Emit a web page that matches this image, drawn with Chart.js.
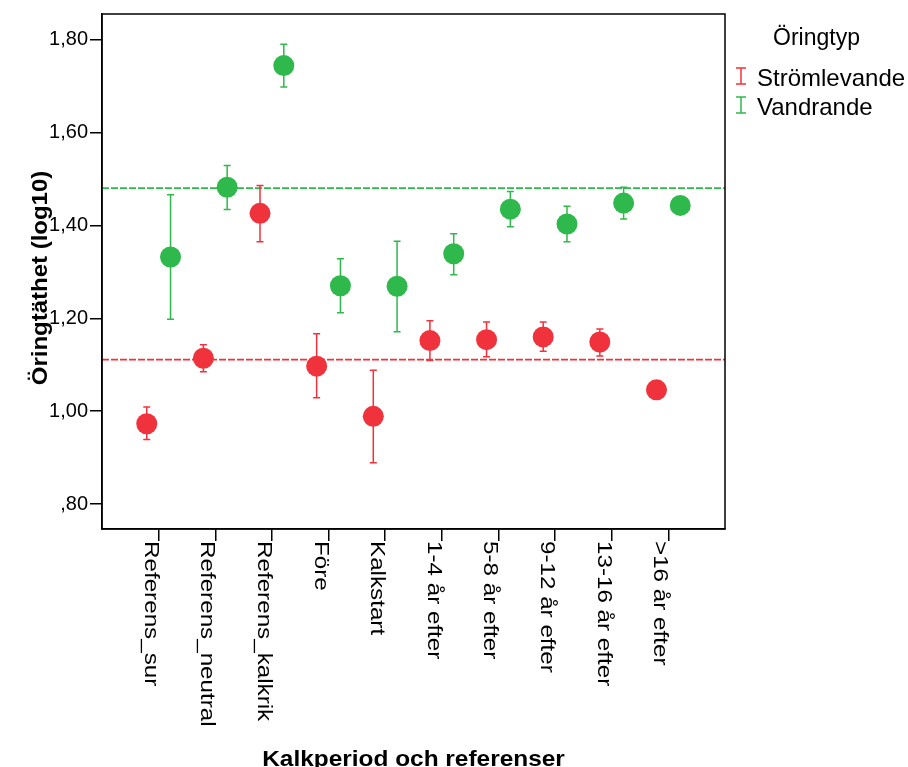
<!DOCTYPE html>
<html>
<head>
<meta charset="utf-8">
<script src="https://cdn.jsdelivr.net/npm/chart.js@4/dist/chart.umd.min.js"></script>
<style>
  html, body { margin: 0; padding: 0; background: #fff; }
  #wrap { width: 908px; height: 767px; }
</style>
</head>
<body>
<div id="wrap"><canvas id="c" width="908" height="767"></canvas></div>
<script>
// Kalkperioder och referenser
const categories = ['Referens_sur', 'Referens_neutral', 'Referens_kalkrik', 'Före', 'Kalkstart',
  '1-4 år efter', '5-8 år efter', '9-12 år efter', '13-16 år efter', '>16 år efter'];

// Strömlevande öring: medelvärde och felstaplar (log10)
const stromMean = [0.973, 1.114, 1.426, 1.097, 0.989, 1.152, 1.154, 1.160, 1.149, 1.046];
const stromLow  = [0.939, 1.085, 1.365, 1.029, 0.889, 1.109, 1.117, 1.129, 1.119, null];
const stromHigh = [1.009, 1.143, 1.486, 1.167, 1.088, 1.195, 1.192, 1.192, 1.177, null];

// Vandrande öring
const vandMean = [1.332, 1.482, 1.744, 1.270, 1.269, 1.339, 1.435, 1.403, 1.448, 1.443];
const vandLow  = [1.198, 1.434, 1.698, 1.212, 1.171, 1.294, 1.397, 1.365, 1.414, null];
const vandHigh = [1.466, 1.529, 1.790, 1.328, 1.366, 1.382, 1.473, 1.441, 1.482, null];

// Referenslinjer
const stromRef = 1.111;
const vandRef = 1.48;

const yTicks = [0.8, 1.0, 1.2, 1.4, 1.6, 1.8];
const yTickLabels = [',80', '1,00', '1,20', '1,40', '1,60', '1,80'];

const legendTitle = 'Öringtyp';
const seriesNames = ['Strömlevande', 'Vandrande'];
const xTitle = 'Kalkperiod och referenser';
const yTitle = 'Öringtäthet (log10)';

const RED = '#f0323c';
const GREEN = '#2fb84c';
const FONT = '"Liberation Sans", Arial, Helvetica, sans-serif';
const SHIFT = 0.21;

const series = [
  { name: seriesNames[0], mean: stromMean, low: stromLow, high: stromHigh, color: RED, shift: -SHIFT, ref: stromRef },
  { name: seriesNames[1], mean: vandMean, low: vandLow, high: vandHigh, color: GREEN, shift: SHIFT, ref: vandRef }
];

// draws text with a stretch along its reading direction
function stretchedText(ctx, text, x, y, rot, sx, font, align, baseline) {
  ctx.save();
  ctx.translate(x, y);
  ctx.rotate(rot);
  ctx.scale(sx, 1);
  ctx.font = font;
  ctx.textAlign = align;
  ctx.textBaseline = baseline;
  ctx.fillStyle = '#000';
  ctx.fillText(text, 0, 0);
  ctx.restore();
}

const decorations = {
  id: 'decorations',
  beforeDatasetsDraw(chart) {
    const { ctx, chartArea: a, scales: { x, y } } = chart;
    ctx.save();
    ctx.beginPath();
    ctx.rect(a.left, a.top, a.right - a.left, a.bottom - a.top);
    ctx.clip();
    // dashed reference lines
    ctx.lineWidth = 1.8;
    ctx.setLineDash([7, 2]);
    series.forEach(s => {
      const py = y.getPixelForValue(s.ref);
      ctx.strokeStyle = s.color;
      ctx.beginPath();
      ctx.moveTo(a.left, py);
      ctx.lineTo(a.right, py);
      ctx.stroke();
    });
    ctx.setLineDash([]);
    // error bars
    series.forEach(s => {
      ctx.strokeStyle = s.color;
      ctx.lineWidth = 1.5;
      s.low.forEach((lo, i) => {
        const hi = s.high[i];
        if (lo == null || hi == null) return;
        const px = x.getPixelForValue(i + 1 + s.shift);
        const pl = y.getPixelForValue(lo);
        const ph = y.getPixelForValue(hi);
        ctx.beginPath();
        ctx.moveTo(px, pl); ctx.lineTo(px, ph);
        ctx.moveTo(px - 3.5, pl); ctx.lineTo(px + 3.5, pl);
        ctx.moveTo(px - 3.5, ph); ctx.lineTo(px + 3.5, ph);
        ctx.stroke();
      });
    });
    ctx.restore();
  },
  afterDraw(chart) {
    const { ctx, chartArea: a, scales: { x } } = chart;
    ctx.save();
    // frame
    ctx.strokeStyle = '#000';
    ctx.lineWidth = 1.5;
    ctx.strokeRect(a.left, a.top, a.right - a.left, a.bottom - a.top);

    // category labels, reading downward
    categories.forEach((c, i) => {
      const px = x.getPixelForValue(i + 1);
      stretchedText(ctx, c, px - 14, a.bottom + 12, Math.PI / 2, 1.21, '20px ' + FONT, 'left', 'alphabetic');
    });

    // axis titles
    stretchedText(ctx, xTitle, (a.left + a.right) / 2, 766, 0, 1.11, 'bold 22px ' + FONT, 'center', 'alphabetic');
    stretchedText(ctx, yTitle, 47, 278, -Math.PI / 2, 1.09, 'bold 22px ' + FONT, 'center', 'alphabetic');

    // legend
    stretchedText(ctx, legendTitle, 773, 45, 0, 1.0, '23px ' + FONT, 'left', 'alphabetic');
    const rows = [76, 105];
    series.forEach((s, k) => {
      const cy = rows[k];
      ctx.strokeStyle = s.color;
      ctx.lineWidth = 1.5;
      ctx.beginPath();
      ctx.moveTo(741, cy - 8); ctx.lineTo(741, cy + 8);
      ctx.moveTo(736, cy - 8); ctx.lineTo(746, cy - 8);
      ctx.moveTo(736, cy + 8); ctx.lineTo(746, cy + 8);
      ctx.stroke();
      stretchedText(ctx, s.name, 757, cy + 10, 0, 1.0, '24px ' + FONT, 'left', 'alphabetic');
    });
    ctx.restore();
  }
};

new Chart(document.getElementById('c'), {
  type: 'scatter',
  data: {
    datasets: series.map(s => ({
      label: s.name,
      data: s.mean.map((v, i) => ({ x: i + 1 + s.shift, y: v })),
      backgroundColor: s.color,
      borderColor: s.color,
      borderWidth: 0,
      pointRadius: 10.5,
      pointHoverRadius: 10.5
    }))
  },
  options: {
    responsive: false,
    animation: false,
    devicePixelRatio: 1,
    layout: { padding: { left: 0, top: 12, right: 183, bottom: 0 } },
    plugins: { legend: { display: false }, tooltip: { enabled: false } },
    events: [],
    scales: {
      x: {
        type: 'linear',
        min: 0,
        max: categories.length + 1,
        afterBuildTicks: s => { s.ticks = categories.map((c, i) => ({ value: i + 1 })); },
        afterFit: s => { s.height = 238; },
        ticks: { display: false },
        grid: { drawOnChartArea: false, drawTicks: true, tickLength: 12, color: '#000', lineWidth: 1.5 },
        border: { display: true, color: '#000', width: 1.5 }
      },
      y: {
        type: 'linear',
        min: 0.7465,
        max: 1.855,
        afterBuildTicks: s => { s.ticks = yTicks.map(v => ({ value: v })); },
        afterFit: s => { s.width = 102; },
        ticks: {
          callback: (v, i) => yTickLabels[i],
          font: { family: FONT, size: 20 },
          color: '#000',
          padding: 2
        },
        grid: { drawOnChartArea: false, drawTicks: true, tickLength: 12, color: '#000', lineWidth: 1.5 },
        border: { display: true, color: '#000', width: 1.5 }
      }
    }
  },
  plugins: [decorations]
});
</script>
</body>
</html>
